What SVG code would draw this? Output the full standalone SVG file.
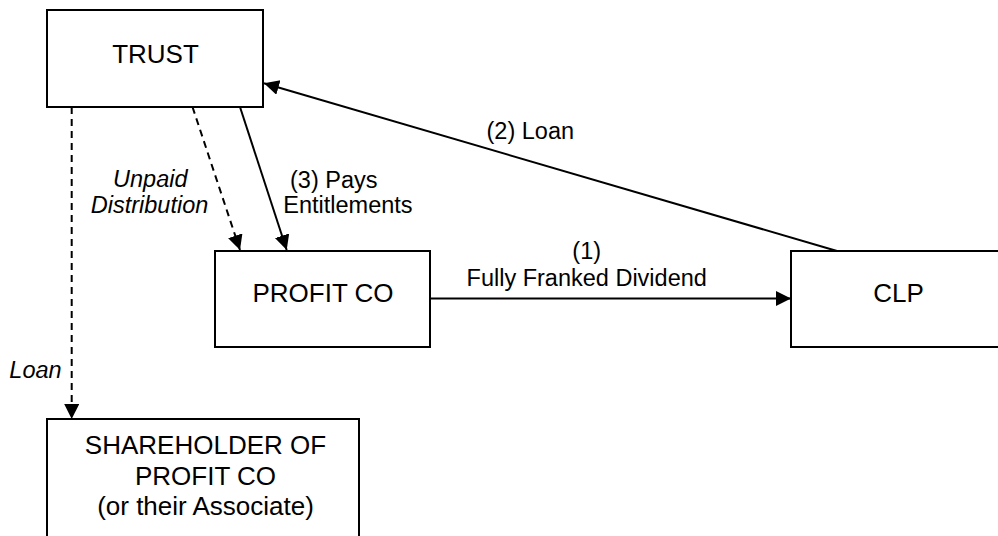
<svg xmlns="http://www.w3.org/2000/svg" width="998" height="536" viewBox="0 0 998 536">
  <style>
    .box { fill: #ffffff; stroke: #000000; stroke-width: 2; }
    .lbl { font-family: "Liberation Sans", Arial, sans-serif; font-size: 26px; fill: #000000; text-anchor: middle; }
    .edge { font-family: "Liberation Sans", Arial, sans-serif; font-size: 23.5px; fill: #000000; }
    .it { font-style: italic; }
    .con { fill: none; stroke: #000000; stroke-width: 2; }
    .dash { stroke-dasharray: 7 5; }
  </style>
  <defs>
    <marker id="arr" markerUnits="userSpaceOnUse" markerWidth="16" markerHeight="16" refX="15" refY="7.5" orient="auto">
      <path d="M0,0 L15,7.5 L0,15 Z" fill="#000000"/>
    </marker>
  </defs>
  <rect width="998" height="536" fill="#ffffff"/>

  <g id="connectors">
    <line class="con dash" x1="71.7" y1="107" x2="71.7" y2="419" marker-end="url(#arr)"/>
    <line class="con dash" x1="192.5" y1="107" x2="240" y2="250" marker-end="url(#arr)"/>
    <line class="con" x1="240" y1="107" x2="286.7" y2="250" marker-end="url(#arr)"/>
    <line class="con" x1="837" y1="251" x2="264" y2="83.3" marker-end="url(#arr)"/>
    <line class="con" x1="431" y1="298.5" x2="791" y2="298.5" marker-end="url(#arr)"/>
  </g>

  <g id="trust">
    <rect class="box" x="47" y="10" width="216" height="97"/>
    <text class="lbl" x="155.5" y="63">TRUST</text>
  </g>

  <g id="profit-co">
    <rect class="box" x="215" y="251" width="215" height="96"/>
    <text class="lbl" x="323" y="301.7">PROFIT CO</text>
  </g>

  <g id="clp">
    <rect class="box" x="791" y="251" width="216" height="96"/>
    <text class="lbl" x="898.5" y="302">CLP</text>
  </g>

  <g id="shareholder">
    <rect class="box" x="47" y="419" width="312" height="130"/>
    <text class="lbl" x="205.5" y="454.3">SHAREHOLDER OF</text>
    <text class="lbl" x="205.5" y="484.5">PROFIT CO</text>
    <text class="lbl" x="205.5" y="515">(or their Associate)</text>
  </g>

  <g id="labels">
    <text class="edge" x="530.3" y="139.3" text-anchor="middle">(2) Loan</text>
    <text class="edge" x="290" y="187.5">(3) Pays</text>
    <text class="edge" x="283.3" y="213.3">Entitlements</text>
    <text class="edge it" x="150.3" y="186.7" text-anchor="middle">Unpaid</text>
    <text class="edge it" x="149.5" y="213" text-anchor="middle">Distribution</text>
    <text class="edge it" x="35.5" y="378.3" text-anchor="middle">Loan</text>
    <text class="edge" x="586.7" y="258.5" text-anchor="middle">(1)</text>
    <text class="edge" x="586.7" y="285.7" text-anchor="middle">Fully Franked Dividend</text>
  </g>
</svg>
